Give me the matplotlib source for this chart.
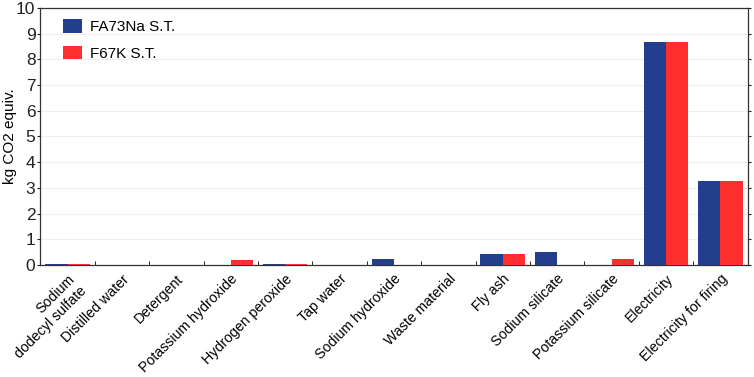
import matplotlib
matplotlib.use("Agg")
import matplotlib.pyplot as plt
import numpy as np

categories = ["Sodium\ndodecyl sulfate", "Distilled water", "Detergent", "Potassium hydroxide",
              "Hydrogen peroxide", "Tap water", "Sodium hydroxide", "Waste material",
              "Fly ash", "Sodium silicate", "Potassium silicate", "Electricity",
              "Electricity for firing"]
fa73na = [0.03, 0.0, 0.0, 0.0, 0.03, 0.0, 0.22, 0.0, 0.42, 0.52, 0.0, 8.67, 3.28]
f67k = [0.03, 0.0, 0.0, 0.18, 0.03, 0.0, 0.0, 0.0, 0.42, 0.0, 0.22, 8.67, 3.28]
series_names = ["FA73Na S.T.", "F67K S.T."]

plt.rcParams['font.family'] = ['Liberation Sans', 'DejaVu Sans']
fig = plt.figure(figsize=(7.54, 3.77), dpi=100)
ax = fig.add_axes([0.0535, 0.297, 0.938, 0.682])

x = np.arange(len(categories))
w = 0.41
ax.bar(x - w/2, fa73na, w, color="#233E8C", label=series_names[0], zorder=3)
ax.bar(x + w/2, f67k, w, color="#FF2E2E", label=series_names[1], zorder=3)

ax.set_xlim(-0.5, len(categories) - 0.5)
ax.set_ylim(0, 10)
ax.set_yticks(range(0, 11))
ax.tick_params(axis='y', which='both', left=True, right=True, direction='out', length=2,
               labelsize=12.5, pad=1.5, colors='#222222')
ax.yaxis.grid(True, color='#eeeeee', linewidth=0.8, zorder=0)
ax.set_xticks(x)
ax.set_xticklabels(categories, rotation=45, ha='right', rotation_mode='anchor', fontsize=10.2)
ax.tick_params(axis='x', which='major', length=0, pad=5)
ax.set_xticks(np.arange(0.5, len(categories) - 1, 1.0), minor=True)
ax.tick_params(axis='x', which='minor', direction='in', length=3, top=False)
for s in ax.spines.values():
    s.set_color('#333333')
    s.set_linewidth(0.9)
ax.set_ylabel("kg CO2 equiv.", fontsize=11)
ax.yaxis.set_label_coords(-0.033, 0.5)
ax.legend(loc='upper left', frameon=False, fontsize=11, handlelength=1.3, handleheight=1.0,
          bbox_to_anchor=(0.012, 1.01), labelspacing=0.75, handletextpad=0.5)

fig.savefig("out.png", dpi=100)
